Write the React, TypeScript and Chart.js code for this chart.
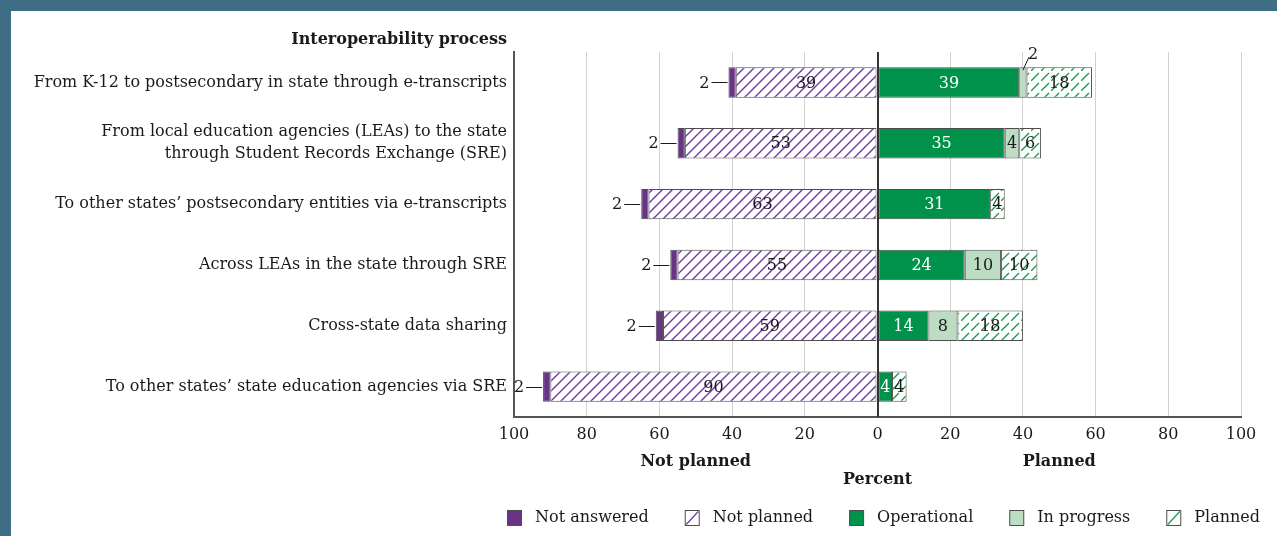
import { useEffect, useRef } from 'react';
import { Chart, registerables } from 'chart.js';

Chart.register(...registerables);

const FONT = '"DejaVu Serif", serif';
const TEXT = '#1a1a1a';

const categories: (string | string[])[] = [
  'From K-12 to postsecondary in state through e-transcripts',
  ['From local education agencies (LEAs) to the state', 'through Student Records Exchange (SRE)'],
  'To other states’ postsecondary entities via e-transcripts',
  'Across LEAs in the state through SRE',
  'Cross-state data sharing',
  'To other states’ state education agencies via SRE',
];
const notAnswered = [2, 2, 2, 2, 2, 2];
const notPlanned = [39, 53, 63, 55, 59, 90];
const operational = [39, 35, 31, 24, 14, 4];
const inProgress = [2, 4, 0, 10, 8, 0];
const planned = [18, 6, 4, 10, 18, 4];

const legendLabels = ['Not answered', 'Not planned', 'Operational', 'In progress', 'Planned'];

const PURPLE = '#6a3486';
const PURPLE_LINE = '#6c38a8';
const GREEN = '#00924a';
const LIGHT_GREEN = '#bcdcc4';
const GREEN_LINE = '#129a52';
const BORDER = '#4d4d4d';

function makeHatch(color: string, dashed: boolean): CanvasPattern | string {
  const s = 10;
  const c = document.createElement('canvas');
  c.width = s;
  c.height = s;
  const g = c.getContext('2d');
  if (!g) return '#fff';
  g.fillStyle = '#ffffff';
  g.fillRect(0, 0, s, s);
  g.strokeStyle = color;
  g.lineWidth = dashed ? 1.3 : 1.4;
  g.beginPath();
  if (dashed) {
    g.moveTo(0, s);
    g.lineTo(8, s - 8);
  } else {
    g.moveTo(-1, s + 1);
    g.lineTo(s + 1, -1);
    g.moveTo(-1, 1);
    g.lineTo(1, -1);
    g.moveTo(s - 1, s + 1);
    g.lineTo(s + 1, s - 1);
  }
  g.stroke();
  const p = g.createPattern(c, 'repeat');
  return p || '#fff';
}

export default function App() {
  const ref = useRef<HTMLCanvasElement | null>(null);

  useEffect(() => {
    if (!ref.current) return;
    const purpleHatch = makeHatch(PURPLE_LINE, false);
    const greenHatch = makeHatch(GREEN_LINE, true);

    const labelsPlugin = {
      id: 'barLabels',
      afterDatasetsDraw(chart: any) {
        const ctx = chart.ctx as CanvasRenderingContext2D;
        const area = chart.chartArea;
        const xs = chart.scales.x;
        ctx.save();
        // zero line on top
        const x0 = Math.round(xs.getPixelForValue(0));
        ctx.strokeStyle = '#333';
        ctx.lineWidth = 2;
        ctx.beginPath();
        ctx.moveTo(x0, area.top);
        ctx.lineTo(x0, area.bottom);
        ctx.stroke();

        ctx.font = `16px ${FONT}`;
        ctx.textBaseline = 'middle';
        chart.data.datasets.forEach((ds: any, di: number) => {
          const meta = chart.getDatasetMeta(di);
          meta.data.forEach((el: any, i: number) => {
            const v = Math.abs(ds.data[i]);
            if (!v) return;
            const { x, y, base, height } = el.getProps(['x', 'y', 'base', 'height'], true);
            const left = Math.min(x, base);
            const right = Math.max(x, base);
            const key = ds.key;
            ctx.fillStyle = TEXT;
            ctx.strokeStyle = TEXT;
            ctx.lineWidth = 1;
            if (key === 'notAnswered') {
              ctx.beginPath();
              ctx.moveTo(left - 1, Math.round(y) + 0.5);
              ctx.lineTo(left - 17, Math.round(y) + 0.5);
              ctx.stroke();
              ctx.textAlign = 'right';
              ctx.fillText(String(v), left - 19, y + 1);
            } else if (right - left < 10) {
              const cx = (left + right) / 2;
              const top = y - height / 2;
              ctx.beginPath();
              ctx.moveTo(cx, top + 3);
              ctx.lineTo(cx + 6, top - 10);
              ctx.stroke();
              ctx.textAlign = 'left';
              ctx.fillText(String(v), cx + 5, top - 12);
            } else {
              ctx.textAlign = 'center';
              ctx.fillStyle = key === 'operational' ? '#ffffff' : TEXT;
              ctx.fillText(String(v), (left + right) / 2, y + 1);
            }
          });
        });

        // titles
        ctx.fillStyle = TEXT;
        ctx.font = `bold 16px ${FONT}`;
        ctx.textAlign = 'right';
        ctx.fillText('Interoperability process', area.left - 7, area.top - 12);
        ctx.textAlign = 'center';
        ctx.fillText('Not planned', xs.getPixelForValue(-50), area.bottom + 45);
        ctx.fillText('Planned', xs.getPixelForValue(50), area.bottom + 45);
        ctx.fillText('Percent', xs.getPixelForValue(0), area.bottom + 63);

        // legend
        ctx.font = `16px ${FONT}`;
        const box = 14;
        const gapBox = 14;
        const gapItem = 36;
        const widths = legendLabels.map((t) => ctx.measureText(t).width);
        const total = widths.reduce((a, w) => a + box + gapBox + w, 0) + gapItem * (legendLabels.length - 1);
        let lx = Math.round(873 - total / 2);
        const ly = area.bottom + 100;
        legendLabels.forEach((t, k) => {
          const bx = lx + 0.5;
          const by = Math.round(ly - 7) + 0.5;
          if (k === 0) ctx.fillStyle = PURPLE;
          else if (k === 2) ctx.fillStyle = GREEN;
          else if (k === 3) ctx.fillStyle = LIGHT_GREEN;
          else ctx.fillStyle = '#ffffff';
          ctx.fillRect(bx, by, box, box + 1);
          if (k === 1 || k === 4) {
            ctx.strokeStyle = k === 1 ? PURPLE_LINE : GREEN_LINE;
            ctx.lineWidth = 1.2;
            ctx.beginPath();
            ctx.moveTo(bx + 1, by + box);
            ctx.lineTo(bx + box - 1, by + 1);
            ctx.stroke();
          }
          ctx.strokeStyle = BORDER;
          ctx.lineWidth = 1;
          ctx.strokeRect(bx, by, box, box + 1);
          ctx.fillStyle = TEXT;
          ctx.textAlign = 'left';
          ctx.fillText(t, lx + box + gapBox, ly + 1);
          lx += box + gapBox + widths[k] + gapItem;
        });
        ctx.restore();
      },
    };

    const common = {
      borderColor: BORDER,
      borderWidth: 1,
      borderSkipped: false,
      categoryPercentage: 1,
      barPercentage: 0.5,
      stack: 's',
    };

    const chart = new Chart(ref.current, {
      type: 'bar',
      data: {
        labels: categories,
        datasets: [
          { key: 'notPlanned', label: 'Not planned', data: notPlanned.map((v) => -v), backgroundColor: purpleHatch, ...common },
          { key: 'notAnswered', label: 'Not answered', data: notAnswered.map((v) => -v), backgroundColor: PURPLE, ...common },
          { key: 'operational', label: 'Operational', data: operational, backgroundColor: GREEN, ...common },
          { key: 'inProgress', label: 'In progress', data: inProgress, backgroundColor: LIGHT_GREEN, ...common },
          { key: 'planned', label: 'Planned', data: planned, backgroundColor: greenHatch, ...common },
        ] as any,
      },
      options: {
        indexAxis: 'y',
        animation: false,
        responsive: false,
        layout: { padding: { top: 41, right: 36, left: 0, bottom: 0 } },
        plugins: { legend: { display: false }, tooltip: { enabled: false } },
        scales: {
          x: {
            stacked: true,
            min: -100,
            max: 100,
            ticks: {
              stepSize: 20,
              color: TEXT,
              font: { family: FONT, size: 16 },
              padding: 8,
              callback: (v: any) => String(Math.abs(Number(v))),
            },
            grid: {
              color: (c: any) => (c.tick && c.tick.value === 0 ? '#333333' : '#d2d2d2'),
              lineWidth: (c: any) => (c.tick && c.tick.value === 0 ? 2 : 1),
              drawTicks: false,
            },
            border: { color: '#555555', width: 2 },
            afterFit: (s: any) => {
              s.height = 119;
            },
          },
          y: {
            stacked: true,
            ticks: {
              color: TEXT,
              font: { family: FONT, size: 16, lineHeight: 1.375 },
              padding: 7,
            },
            grid: { display: false, drawTicks: false },
            border: { color: '#555555', width: 2 },
            afterFit: (s: any) => {
              s.width = 503;
            },
          },
        },
      } as any,
      plugins: [labelsPlugin],
    });
    return () => chart.destroy();
  }, []);

  return (
    <div
      style={{
        background: '#3d6e86',
        width: 1277,
        height: 536,
        paddingTop: 11,
        paddingLeft: 11,
        boxSizing: 'border-box',
      }}
    >
      <style>{'body{margin:0}'}</style>
      <div style={{ background: '#ffffff', width: 1266, height: 525 }}>
        <canvas ref={ref} width={1266} height={525} style={{ display: 'block' }} />
      </div>
    </div>
  );
}
